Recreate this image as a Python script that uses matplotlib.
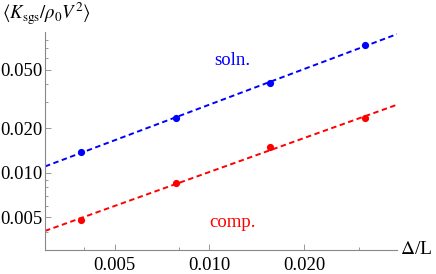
import numpy as np
import matplotlib
matplotlib.use("Agg")
import matplotlib.pyplot as plt

# data
dx = [1/256, 1/128, 1/64, 1/32]
soln = [0.01375, 0.0237, 0.0408, 0.073]
comp = [0.00482, 0.00853, 0.01486, 0.0234]

x_ticks = [0.005, 0.010, 0.020]
x_ticklabels = ["0.005", "0.010", "0.020"]
y_ticks = [0.005, 0.010, 0.020, 0.050]
y_ticklabels = ["0.005", "0.010", "0.020", "0.050"]
x_minor = [0.004, 0.008, 0.03]
y_minor = [0.004, 0.006, 0.007, 0.008, 0.009, 0.03, 0.04, 0.06, 0.07, 0.08]

plt.rcParams['font.family'] = ['Liberation Serif', 'DejaVu Serif']
plt.rcParams['mathtext.fontset'] = 'stix'

fig = plt.figure(figsize=(4.36, 2.74), dpi=100)
ax = fig.add_axes([45/436, 1 - 250/274, (397 - 45)/436, (250 - 32)/274])

xmin, xmax = 0.003, 0.0395
xx = np.array([xmin, xmax])
for ys, col in [(soln, 'blue'), (comp, 'red')]:
    # power-law fit through the points
    p = np.polyfit(np.log(dx), np.log(ys), 1)
    ax.plot(xx, np.exp(np.polyval(p, np.log(xx))), color=col, lw=1.4,
            linestyle=(0, (2.8, 1.8)))
    ax.plot(dx, ys, 'o', color=col, ms=5.2, mec='none')

ax.set_xscale('log')
ax.set_yscale('log')
ax.set_xlim(xmin, xmax)
ax.set_ylim(0.003, 0.09)

ax.set_xticks(x_ticks)
ax.set_xticklabels(x_ticklabels)
ax.set_xticks(x_minor, minor=True)
ax.set_xticklabels([], minor=True)
ax.set_yticks(y_ticks)
ax.set_yticklabels(y_ticklabels)
ax.set_yticks(y_minor, minor=True)
ax.set_yticklabels([], minor=True)

for s in ['top', 'right']:
    ax.spines[s].set_visible(False)
for s in ['left', 'bottom']:
    ax.spines[s].set_color('#888888')
    ax.spines[s].set_linewidth(0.8)
ax.tick_params(which='both', direction='in', color='#888888', width=0.6,
               labelsize=13.5, labelcolor='black')
ax.tick_params(which='major', length=4)
ax.tick_params(which='minor', length=2.5)
ax.tick_params(axis='x', pad=5)
ax.tick_params(axis='y', pad=2)

ax.text(0.0118, 0.0535, 'soln.', color='blue', fontsize=13.5, ha='center', va='baseline')
ax.text(0.0118, 0.0043, 'comp.', color='red', fontsize=13.5, ha='center', va='baseline')

fig.text(400/436, 1 - 250/274, r'$\Delta$/L', fontsize=14, ha='left', va='center')
fig.text(2/436, 1 - 14/274, r'$\langle K_{\mathrm{sgs}}/\rho_0 V^2\rangle$',
         fontsize=13.5, ha='left', va='center')

fig.savefig('out.png', dpi=100)
